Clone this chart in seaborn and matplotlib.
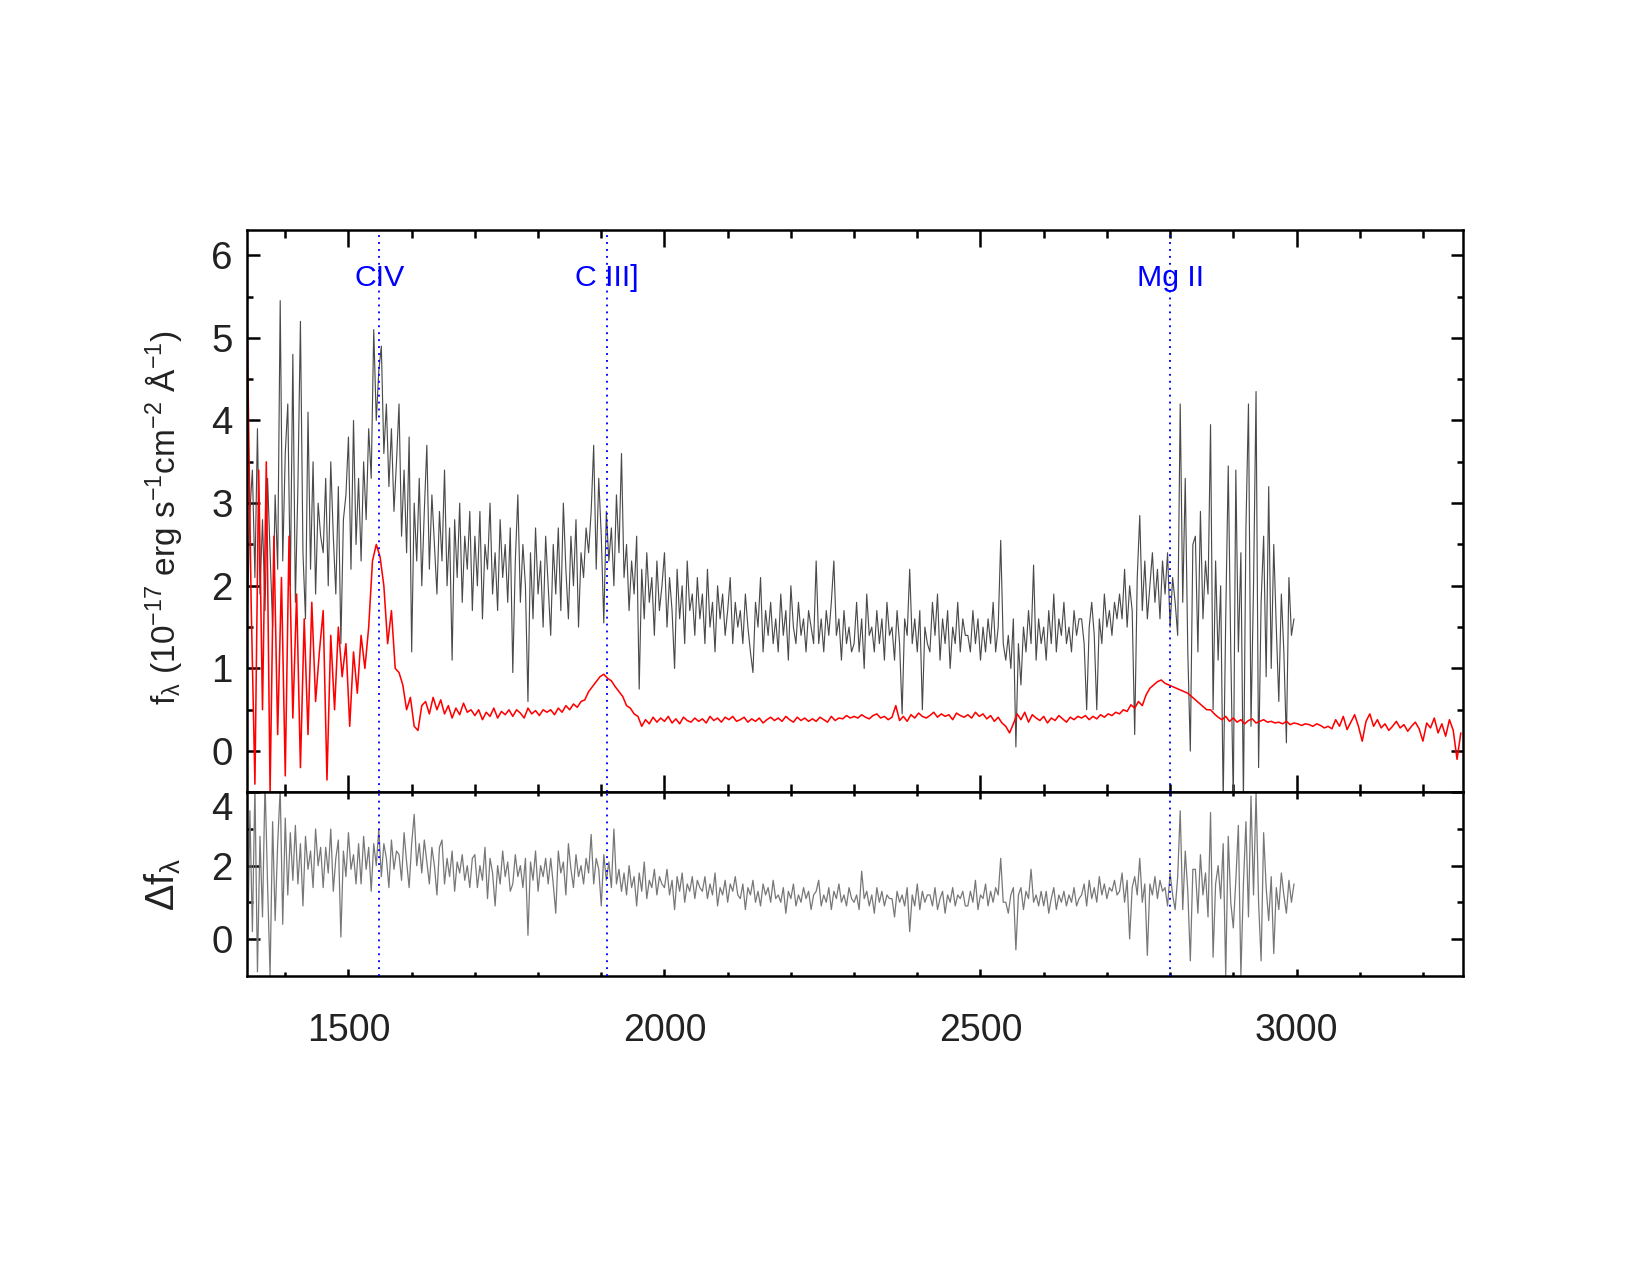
import numpy as np
import matplotlib
matplotlib.use("Agg")
import matplotlib.pyplot as plt
import seaborn as sns
from matplotlib.ticker import MultipleLocator, FixedLocator

# rest-frame wavelength grids (Angstrom)
wave_start = 1340
step_obs = 4      # observed spectrum and difference
step_red = 6      # template

# observed spectrum (10^-17 erg/s/cm2/A), one row = 60 A
flux_obs = [
    1.6, 2.9, 3.4, 2.1, 3.9, 1.9, 2.8, 1.7, 3.3, 2.4, 1.5, 3.1, 2.2, 5.45, 2.3,    # 1340
    3.6, 4.2, 2.0, 4.8, 1.8, 3.2, 5.2, 2.4, 1.6, 4.1, 2.2, 3.5, 1.9, 3.0, 2.6,     # 1400
    2.4, 3.3, 2.0, 3.5, 2.6, 1.9, 3.2, 1.3, 2.8, 3.1, 3.8, 2.2, 4.0, 2.5, 3.3,     # 1460
    2.3, 3.5, 2.8, 3.9, 3.3, 5.1, 4.0, 4.6, 4.9, 3.6, 4.2, 3.2, 3.9, 2.9, 3.5,     # 1520
    4.2, 2.6, 3.4, 2.4, 3.8, 1.2, 3.0, 2.3, 3.3, 2.0, 2.9, 3.7, 2.2, 3.1, 2.5,     # 1580
    1.9, 2.9, 2.3, 3.4, 2.0, 2.7, 1.1, 2.8, 2.1, 3.0, 1.8, 2.6, 2.2, 2.9, 1.7,     # 1640
    2.6, 2.0, 2.9, 1.6, 2.5, 2.2, 3.0, 1.9, 2.4, 1.7, 2.8, 2.1, 2.5, 1.8, 2.7,     # 1700
    0.95, 2.3, 3.1, 1.8, 2.5, 2.0, 0.6, 2.4, 1.6, 2.7, 1.9, 2.3, 1.5, 2.6, 2.0,    # 1760
    1.4, 2.5, 1.9, 2.7, 1.7, 3.0, 2.2, 1.6, 2.6, 2.0, 2.8, 1.5, 2.4, 2.1, 2.7,     # 1820
    2.4, 2.9, 3.7, 2.2, 3.3, 2.6, 1.55, 2.9, 2.3, 2.7, 2.0, 3.1, 2.4, 3.6, 2.1,    # 1880
    2.5, 1.7, 2.3, 1.9, 2.6, 0.75, 2.2, 1.6, 2.4, 1.8, 2.1, 1.4, 2.3, 1.7, 2.0,    # 1940
    2.4, 1.5, 2.1, 1.7, 1.0, 2.2, 1.6, 2.0, 1.3, 2.3, 1.7, 1.9, 1.4, 2.1, 1.6,     # 2000
    1.9, 1.3, 2.2, 1.5, 1.8, 1.2, 2.0, 1.6, 1.9, 1.4, 1.7, 2.1, 1.3, 1.8, 1.5,     # 2060
    1.7, 1.3, 1.9, 1.5, 1.2, 0.95, 1.8, 1.5, 2.1, 1.2, 1.7, 1.4, 1.8, 1.3, 1.6,    # 2120
    1.2, 1.9, 1.4, 1.7, 1.1, 2.0, 1.5, 1.3, 1.8, 1.4, 1.6, 1.2, 1.7, 1.5, 1.3,     # 2180
    2.3, 1.3, 1.6, 1.2, 1.7, 1.4, 1.8, 2.3, 1.4, 1.6, 1.1, 1.7, 1.3, 1.5, 1.2,     # 2240
    1.3, 1.8, 1.2, 1.6, 1.0, 1.9, 1.4, 1.5, 1.2, 1.7, 1.3, 1.6, 1.1, 1.8, 1.4,     # 2300
    1.5, 1.1, 1.7, 1.3, 0.45, 1.6, 1.4, 2.2, 1.3, 1.6, 1.2, 1.7, 0.5, 1.5, 1.3,    # 2360
    1.2, 1.8, 1.4, 1.9, 1.1, 1.6, 1.3, 1.7, 1.0, 1.5, 1.3, 1.8, 1.2, 1.6, 1.4,     # 2420
    1.4, 1.2, 1.7, 1.3, 1.6, 1.1, 1.5, 1.2, 1.6, 1.3, 1.8, 1.2, 1.5, 2.55, 1.3,    # 2480
    1.1, 1.4, 1.0, 1.6, 0.05, 1.3, 0.8, 1.5, 1.2, 1.7, 1.3, 2.25, 1.1, 1.6, 1.3,   # 2540
    1.5, 1.1, 1.7, 1.3, 1.9, 1.2, 1.6, 1.4, 1.8, 1.3, 1.5, 1.2, 1.7, 1.4, 1.6,     # 2600
    1.6, 1.3, 0.5, 1.5, 1.8, 1.4, 0.5, 1.6, 1.3, 1.9, 1.5, 1.7, 1.4, 1.8, 1.6,     # 2660
    1.9, 1.6, 2.2, 1.5, 2.0, 1.7, 0.2, 2.1, 2.85, 1.7, 2.3, 1.6, 2.0, 2.4, 1.8,    # 2720
    2.2, 1.6, 2.3, 1.9, 2.4, 1.5, 2.1, 1.8, 1.4, 4.2, 1.8, 3.3, 1.2, 0.0, 2.5,     # 2780
    2.6, 1.2, 2.9, 1.6, 2.3, 1.9, 3.95, 0.5, 2.3, 1.1, 2.0, -0.6, 1.6, 3.45, 1.2,  # 2840
    -0.6, 3.4, 1.2, 2.4, -0.6, 2.7, 4.2, 0.3, 2.0, 4.35, -0.2, 1.8, 2.6, 0.9, 3.2, # 2900
    1.0, 2.5, 1.5, 0.6, 1.9, 1.2, 0.1, 2.1, 1.4, 1.6,                              # 2960
]

# template / composite spectrum (red)
flux_red = [
    5.05, 1.8, -0.4, 3.4, 0.5, 3.5, -0.5, 2.6, 0.2, 2.1,          # 1340
    -0.3, 2.6, 0.4, 1.9, -0.2, 1.6, 0.2, 1.8, 0.6, 1.2,           # 1400
    1.7, -0.35, 1.4, 0.5, 1.5, 0.9, 1.3, 0.3, 1.2, 0.7,           # 1460
    1.4, 1.0, 1.5, 2.3, 2.5, 2.35, 2.0, 1.3, 1.7, 1.0,            # 1520
    0.95, 0.8, 0.5, 0.65, 0.3, 0.25, 0.55, 0.6, 0.45, 0.65,       # 1580
    0.5, 0.62, 0.45, 0.55, 0.4, 0.52, 0.44, 0.58, 0.47, 0.5,      # 1640
    0.43, 0.5, 0.38, 0.47, 0.42, 0.52, 0.4, 0.48, 0.44, 0.5,      # 1700
    0.42, 0.5, 0.46, 0.4, 0.52, 0.45, 0.49, 0.43, 0.5, 0.47,      # 1760
    0.5, 0.44, 0.52, 0.47, 0.55, 0.5, 0.57, 0.53, 0.6, 0.62,      # 1820
    0.72, 0.78, 0.84, 0.9, 0.93, 0.88, 0.85, 0.78, 0.72, 0.66,    # 1880
    0.55, 0.52, 0.45, 0.42, 0.3, 0.38, 0.33, 0.41, 0.35, 0.4,     # 1940
    0.36, 0.42, 0.34, 0.39, 0.33, 0.41, 0.37, 0.35, 0.4, 0.36,    # 2000
    0.39, 0.34, 0.42, 0.37, 0.4, 0.35, 0.41, 0.38, 0.42, 0.36,    # 2060
    0.38, 0.41, 0.35, 0.39, 0.36, 0.4, 0.34, 0.38, 0.41, 0.37,    # 2120
    0.4, 0.36, 0.42, 0.38, 0.35, 0.41, 0.37, 0.4, 0.36, 0.39,     # 2180
    0.36, 0.41, 0.38, 0.35, 0.42, 0.37, 0.4, 0.39, 0.43, 0.4,     # 2240
    0.42, 0.4, 0.44, 0.41, 0.39, 0.43, 0.45, 0.4, 0.42, 0.38,     # 2300
    0.41, 0.55, 0.37, 0.42, 0.36, 0.44, 0.4, 0.46, 0.42, 0.4,     # 2360
    0.43, 0.47, 0.41, 0.45, 0.42, 0.44, 0.38, 0.46, 0.43, 0.41,   # 2420
    0.44, 0.4, 0.47, 0.42, 0.45, 0.39, 0.43, 0.36, 0.41, 0.34,    # 2480
    0.3, 0.22, 0.33, 0.45, 0.38, 0.47, 0.35, 0.44, 0.4, 0.37,     # 2540
    0.42, 0.34, 0.4, 0.37, 0.43, 0.39, 0.35, 0.41, 0.38, 0.42,    # 2600
    0.4, 0.43, 0.38, 0.42, 0.39, 0.44, 0.41, 0.45, 0.43, 0.47,    # 2660
    0.45, 0.5, 0.48, 0.56, 0.52, 0.6, 0.55, 0.68, 0.76, 0.8,      # 2720
    0.84, 0.86, 0.82, 0.8, 0.78, 0.76, 0.74, 0.72, 0.7, 0.66,     # 2780
    0.62, 0.58, 0.54, 0.5, 0.5, 0.45, 0.41, 0.38, 0.42, 0.36,     # 2840
    0.4, 0.35, 0.38, 0.33, 0.37, 0.39, 0.34, 0.36, 0.38, 0.35,    # 2900
    0.36, 0.34, 0.35, 0.33, 0.36, 0.32, 0.34, 0.33, 0.31, 0.33,   # 2960
    0.32, 0.3, 0.33, 0.31, 0.28, 0.3, 0.27, 0.38, 0.3, 0.42,      # 3020
    0.26, 0.35, 0.44, 0.3, 0.12, 0.36, 0.45, 0.3, 0.38, 0.28,     # 3080
    0.33, 0.25, 0.3, 0.36, 0.28, 0.32, 0.24, 0.3, 0.35, 0.27,     # 3140
    0.12, 0.34, 0.28, 0.4, 0.22, 0.33, 0.18, 0.38, 0.25, -0.1,    # 3200
    0.22,                                                         # 3260
]

# difference spectrum (lower panel)
flux_diff = [
    -1.0, 3.5, 0.2, 4.2, -0.9, 2.8, 0.6, 4.3, 1.5, -1.0, 3.2, 0.5, 2.6, 4.1, 0.4,  # 1340
    3.3, 1.2, 2.9, 1.6, 3.1, 1.5, 2.6, 0.9, 2.8, 1.9, 2.4, 1.4, 3.0, 2.0, 2.5,     # 1400
    1.4, 2.5, 1.8, 3.0, 1.3, 2.2, 2.7, 0.05, 2.4, 1.7, 2.9, 1.9, 2.3, 1.5, 2.6,    # 1460
    1.5, 2.8, 1.9, 2.5, 1.3, 2.6, 2.0, 3.0, 1.7, 2.6, 2.2, 1.4, 2.7, 1.9, 2.4,     # 1520
    2.3, 1.6, 2.9, 2.1, 1.4, 2.6, 3.4, 2.0, 2.6, 1.8, 2.7, 2.1, 1.5, 2.5, 2.0,     # 1580
    1.2, 2.5, 2.7, 1.5, 2.2, 1.7, 2.4, 1.3, 2.1, 1.8, 2.3, 1.6, 2.0, 1.4, 2.2,     # 1640
    2.3, 1.4, 2.0, 1.6, 2.5, 1.1, 2.2, 1.8, 0.9, 2.0, 1.5, 2.4, 1.7, 2.1, 1.3,     # 1700
    1.5, 2.3, 1.7, 2.0, 1.4, 2.2, 0.1, 2.1, 1.6, 2.4, 1.3, 2.0, 1.7, 2.2, 1.5,     # 1760
    2.2, 1.5, 0.7, 2.4, 1.8, 2.1, 1.2, 2.6, 1.9, 1.4, 2.3, 1.7, 2.0, 1.5, 2.2,     # 1820
    1.8, 2.85, 1.5, 2.2, 1.9, 0.9, 2.3, 1.6, 2.1, 1.4, 3.0, 1.5, 1.9, 1.3, 1.8,    # 1880
    1.2, 2.0, 1.4, 1.7, 0.9, 1.8, 1.3, 2.1, 1.1, 1.6, 1.4, 1.9, 1.2, 1.7, 1.5,     # 1940
    1.4, 1.9, 1.2, 1.6, 0.8, 1.7, 1.3, 1.8, 1.0, 1.5, 1.3, 1.7, 1.1, 1.6, 1.4,     # 2000
    1.3, 1.7, 1.1, 1.5, 1.2, 1.8, 0.9, 1.4, 1.2, 1.6, 1.0, 1.5, 1.3, 1.7, 1.2,     # 2060
    1.1, 1.5, 0.8, 1.4, 1.2, 1.6, 1.0, 1.3, 0.9, 1.5, 1.2, 1.4, 1.0, 1.6, 1.1,     # 2120
    1.2, 1.0, 1.4, 0.7, 1.3, 1.1, 1.5, 0.9, 1.2, 1.0, 1.4, 1.1, 1.3, 0.8, 1.2,     # 2180
    1.3, 1.6, 0.9, 1.2, 1.0, 1.4, 0.8, 1.3, 1.1, 1.5, 1.0, 1.2, 0.9, 1.4, 1.1,     # 2240
    1.0, 1.2, 0.8, 1.85, 1.1, 1.3, 0.9, 1.2, 0.7, 1.4, 1.0, 1.3, 0.9, 1.2, 1.1,    # 2300
    1.1, 0.6, 1.3, 1.0, 1.2, 0.9, 1.4, 0.2, 1.2, 0.9, 1.5, 0.8, 1.3, 1.0, 1.2,     # 2360
    1.2, 0.9, 1.4, 0.8, 1.1, 1.3, 0.7, 1.2, 1.0, 1.4, 0.9, 1.2, 1.1, 1.3, 0.9,     # 2420
    0.9, 1.3, 1.0, 1.6, 0.8, 1.2, 1.1, 1.5, 0.9, 1.3, 1.0, 1.4, 1.2, 2.2, 1.0,     # 2480
    1.0, 0.7, 1.2, 1.4, -0.3, 1.2, 1.4, 0.8, 1.3, 1.1, 1.9, 1.0, 1.2, 0.9, 1.3,    # 2540
    0.9, 1.3, 0.7, 1.1, 1.4, 0.8, 1.2, 1.0, 1.3, 0.9, 1.2, 1.0, 1.4, 0.9, 1.1,     # 2600
    1.2, 1.5, 0.9, 1.6, 1.1, 1.4, 1.0, 1.7, 1.2, 1.5, 1.1, 1.4, 1.3, 1.6, 1.2,     # 2660
    1.3, 1.8, 1.0, 1.6, 0.0, 1.4, 1.7, 1.2, 2.2, 1.0, 1.5, -0.45, 1.5, 1.2, 1.7,   # 2720
    1.1, 1.6, 1.3, 1.4, 0.9, 1.8, 1.2, 0.8, 1.7, 3.5, 0.8, 2.4, 1.3, -0.6, 1.9,    # 2780
    1.9, 0.7, 2.3, 1.2, 1.8, 0.6, 3.45, -0.5, 1.5, 2.0, 1.1, 2.6, -1.0, 2.8, 1.0,  # 2840
    0.3, 1.6, 3.1, -1.0, 1.5, 3.2, 0.6, 3.9, 1.2, 4.0, 1.0, -0.6, 2.9, 1.4, 0.5,   # 2900
    1.7, -0.4, 1.4, 0.8, 1.8, 1.2, 0.7, 1.6, 1.0, 1.5,                             # 2960
]

# emission lines marked
line_names = ['CIV', 'C III]', 'Mg II']
line_waves = [1549, 1909, 2800]

wave_obs = wave_start + step_obs * np.arange(len(flux_obs))
wave_red = wave_start + step_red * np.arange(len(flux_red))
wave_diff = wave_start + step_obs * np.arange(len(flux_diff))

sns.set_style("ticks")
plt.rcParams['font.family'] = ['Liberation Sans', 'DejaVu Sans']
plt.rcParams['mathtext.fontset'] = 'custom'
plt.rcParams['mathtext.rm'] = 'Liberation Sans'
plt.rcParams['mathtext.it'] = 'Liberation Sans:italic'
plt.rcParams['mathtext.default'] = 'regular'

text_color = '#222222'

fig = plt.figure(figsize=(11, 8.5), dpi=150)
ax1 = fig.add_axes([0.1499, 0.3785, 0.7366, 0.4408])
ax2 = fig.add_axes([0.1499, 0.2349, 0.7366, 0.1436], sharex=ax1)

# upper panel: spectrum and template
sns.lineplot(x=wave_obs, y=flux_obs, ax=ax1, color='#4a4a4a', linewidth=0.55,
             estimator=None, sort=False)
sns.lineplot(x=wave_red, y=flux_red, ax=ax1, color='red', linewidth=0.75,
             estimator=None, sort=False)

# lower panel: difference
sns.lineplot(x=wave_diff, y=flux_diff, ax=ax2, color='#777777', linewidth=0.6,
             estimator=None, sort=False)

for name, w in zip(line_names, line_waves):
    for ax in (ax1, ax2):
        ax.axvline(w, color='blue', linestyle=(0, (1, 2.7)), linewidth=0.9, zorder=5)
    ax1.text(w, 5.72, name, color='blue', fontsize=14.5, ha='center', va='center')

ax1.set_xlim(1340, 3263)
ax1.set_ylim(-0.5, 6.3)
ax2.set_ylim(-1, 4)

ax1.xaxis.set_major_locator(MultipleLocator(500))
ax1.xaxis.set_minor_locator(MultipleLocator(100))
ax1.yaxis.set_major_locator(MultipleLocator(1))
ax1.yaxis.set_minor_locator(MultipleLocator(0.5))
ax2.yaxis.set_major_locator(FixedLocator([0, 2, 4]))
ax2.yaxis.set_minor_locator(FixedLocator([1, 3]))

for ax in (ax1, ax2):
    for sp in ax.spines.values():
        sp.set_linewidth(1.2)
        sp.set_color('black')
    ax.tick_params(which='both', direction='in', width=1.2, top=True, bottom=True,
                   left=True, right=True, colors='black', labelcolor=text_color)
    ax.tick_params(axis='y', which='major', length=6, labelsize=18.5, pad=7)
    ax.tick_params(axis='y', which='minor', length=3)
    ax.set_xlabel('')
    ax.set_ylabel('')

ax1.tick_params(axis='x', which='major', length=8, labelbottom=False)
ax1.tick_params(axis='x', which='minor', length=4)
ax2.tick_params(axis='x', which='major', length=3.5, labelsize=18, pad=18)
ax2.tick_params(axis='x', which='minor', length=2)

ax2.set_yticks([0, 2, 4])
ax2.set_yticklabels(['0', '2', '4'])
for lbl in ax2.get_yticklabels():
    if lbl.get_text() == '4':
        lbl.set_va('top')

fig.text(163 / 1650, 1 - 518 / 1275,
         r'f$_{\lambda}$ (10$^{-17}$ erg s$^{-1}$cm$^{-2}$ Å$^{-1}$)',
         rotation=90, ha='center', va='center', fontsize=16, color=text_color)
fig.text(163 / 1650, 1 - 884 / 1275, r'$\Delta$f$_{\lambda}$',
         rotation=90, ha='center', va='center', fontsize=19, color=text_color)

fig.savefig('out.png', dpi=150)
